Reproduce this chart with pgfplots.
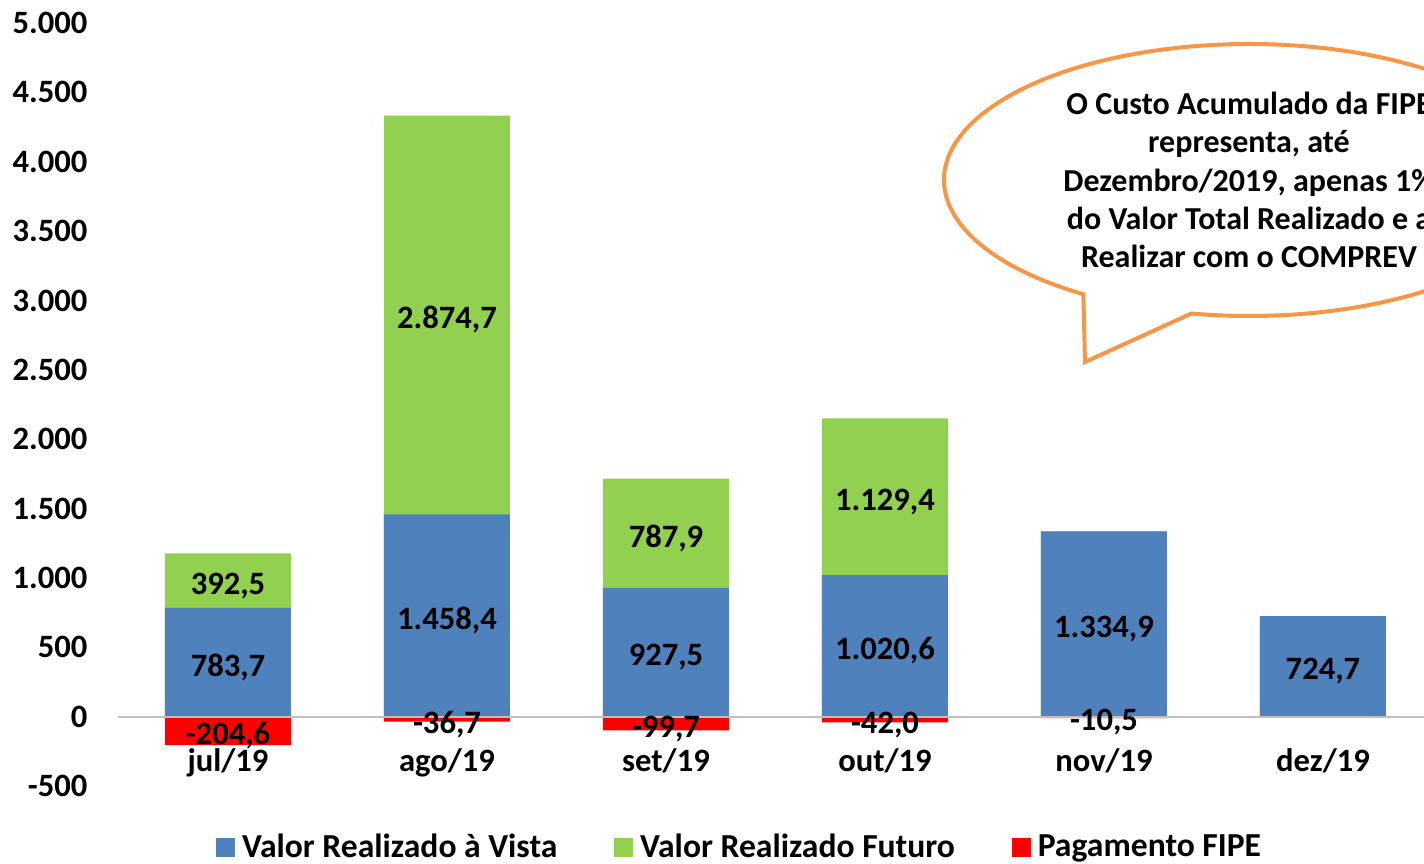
\documentclass[border=0pt]{standalone}
\usepackage{pgfplots}
\pgfplotsset{compat=1.18}
\usepackage{pgfplotstable}
\usepackage{fontspec}
\setmainfont{Carlito}
\definecolor{blu}{HTML}{4F81BD}
\definecolor{grn}{HTML}{92D050}
\definecolor{rd}{HTML}{FF0000}
\definecolor{org}{HTML}{F79646}
\newcommand\lbl{\fontsize{16.3}{19.6}\selectfont\bfseries}
\newcommand\lgd{\fontsize{16.8}{20}\selectfont\bfseries}
\newcommand\clbl{\fontsize{16}{19.2}\selectfont\bfseries}
\pgfplotstableread{
x blue green red
0 783.7 392.5 -204.6
1 1458.4 2874.7 -36.7
2 927.5 787.9 -99.7
3 1020.6 1129.4 -42.0
4 1334.9 0 -10.5
5 724.7 0 0
}\data
\pgfplotsset{lbls/.style={draw=none, mark=none, forget plot, point meta=explicit,
  nodes near coords={\pgfmathprintnumber[fixed,fixed zerofill,precision=1,use comma,1000 sep={.}]{\pgfplotspointmeta}},
  every node near coord/.append style={anchor=center, yshift=-2.5pt, font=\lbl, text=black}}}
\begin{document}
\begin{tikzpicture}
\useasboundingbox (-59.25pt,-38.5pt) rectangle (652.75pt,393pt);
\clip (-59.25pt,-38.5pt) rectangle (652.75pt,393pt);
\begin{axis}[
 at={(0,0)}, anchor=south west,
 scale only axis, width=657pt, height=381.5pt,
 xmin=-0.5, xmax=5.5, ymin=-500, ymax=5000,
 axis line style={draw=none},
 major tick length=0pt,
 xtick={0,...,5},
 xticklabels={jul/19,ago/19,set/19,out/19,nov/19,dez/19},
 ytick={-500,0,...,5000},
 yticklabels={-500,0,500,1.000,1.500,2.000,2.500,3.000,3.500,4.000,4.500,5.000},
 tick label style={font=\lbl, text=black},
 yticklabel style={xshift=-12pt},
 xticklabel style={yshift=22pt},
 bar width=63pt, bar shift=0pt,
 /pgf/number format/assume math mode=true,
 clip=false,
 legend style={at={(0.4735,-0.08)}, anchor=center, draw=none, fill=none, font=\lgd,
   legend columns=3, /tikz/every even column/.append style={column sep=26.5pt}},
]
\addplot[ybar, fill=grn, draw=none, forget plot] table[x=x, y expr=\thisrow{blue}+\thisrow{green}] {\data};
\addplot[ybar, fill=blu, draw=none, forget plot] table[x=x, y=blue] {\data};
\addplot[ybar, fill=rd, draw=none, forget plot] table[x=x, y=red] {\data};
\draw[black!25, line width=1pt] (axis cs:-0.5,0) -- (axis cs:5.5,0);
\addplot[lbls] table[x=x, y expr=\thisrow{blue}/2, meta=blue] {\data};
\addplot[lbls, skip coords between index={4}{6}] table[x=x, y expr=\thisrow{blue}+\thisrow{green}/2, meta=green] {\data};
\addplot[lbls, skip coords between index={5}{6}] table[x=x, y expr=\thisrow{red}/2, meta=red] {\data};
\addlegendimage{legend image code/.code={\fill[blu] (0pt,-4.5pt) rectangle (9pt,4.5pt); \path (10.5pt,0pt);}}
\addlegendentry{Valor Realizado à Vista}
\addlegendimage{legend image code/.code={\fill[grn] (0pt,-4.5pt) rectangle (9pt,4.5pt); \path (10.5pt,0pt);}}
\addlegendentry{Valor Realizado Futuro}
\addlegendimage{legend image code/.code={\fill[rd] (0pt,-4.5pt) rectangle (9pt,4.5pt); \path (10.5pt,0pt);}}
\addlegendentry{Pagamento FIPE}
\end{axis}
\begin{scope}[x=0.5pt,y=-0.5pt,shift={(-59.25pt,393pt)}]
\filldraw[fill=white, draw=org, line width=2pt, line join=miter]
  (1249,180) ++(122.9:305 and 136)
  arc[start angle=122.9, end angle=460.9, x radius=305, y radius=136]
  -- (1085,362) -- cycle;
\node[align=center, font=\clbl, text=black] at (1249,180)
  {O Custo Acumulado da FIPE\\representa, até\\Dezembro/2019, apenas 1\%\\do Valor Total Realizado e a\\Realizar com o COMPREV};
\end{scope}
\end{tikzpicture}
\end{document}
